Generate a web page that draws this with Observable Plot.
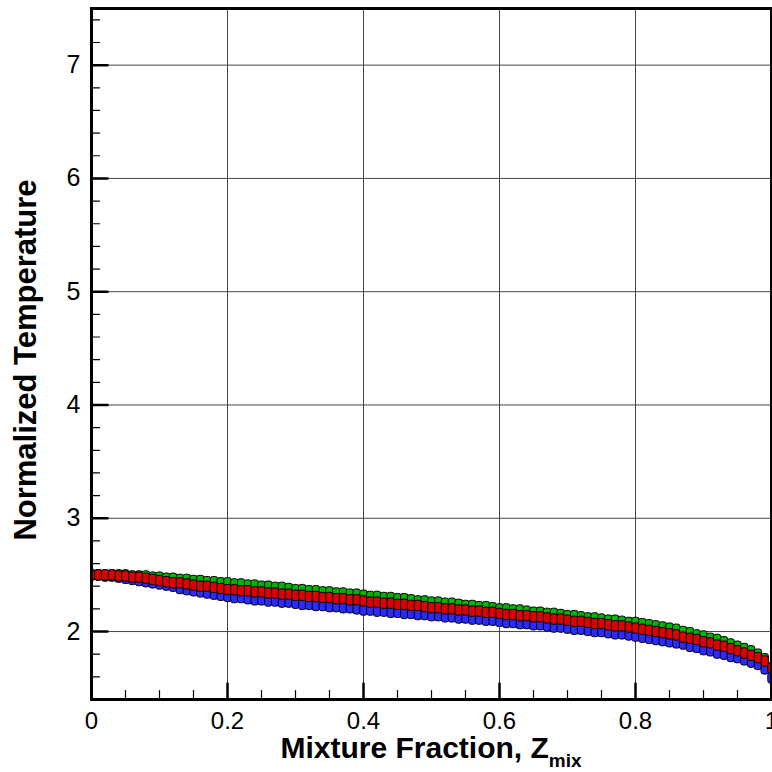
<!DOCTYPE html>
<html>
<head>
<meta charset="utf-8">
<script src="https://cdn.jsdelivr.net/npm/d3@7"></script>
<script src="https://cdn.jsdelivr.net/npm/@observablehq/plot@0.6"></script>
<style>
  html, body { margin: 0; padding: 0; background: #fff; }
  #chart svg { display: block; }
</style>
</head>
<body>
<div id="chart"></div>
<script>
// ---- data ----
const zmix = [
  0.00, 0.01, 0.02, 0.03, 0.04, 0.05, 0.06, 0.07, 0.08, 0.09, 0.10,
  0.11, 0.12, 0.13, 0.14, 0.15, 0.16, 0.17, 0.18, 0.19, 0.20,
  0.21, 0.22, 0.23, 0.24, 0.25, 0.26, 0.27, 0.28, 0.29, 0.30,
  0.31, 0.32, 0.33, 0.34, 0.35, 0.36, 0.37, 0.38, 0.39, 0.40,
  0.41, 0.42, 0.43, 0.44, 0.45, 0.46, 0.47, 0.48, 0.49, 0.50,
  0.51, 0.52, 0.53, 0.54, 0.55, 0.56, 0.57, 0.58, 0.59, 0.60,
  0.61, 0.62, 0.63, 0.64, 0.65, 0.66, 0.67, 0.68, 0.69, 0.70,
  0.71, 0.72, 0.73, 0.74, 0.75, 0.76, 0.77, 0.78, 0.79, 0.80,
  0.81, 0.82, 0.83, 0.84, 0.85, 0.86, 0.87, 0.88, 0.89, 0.90,
  0.91, 0.92, 0.93, 0.94, 0.95, 0.96, 0.97, 0.98, 0.99, 1.00
];
const tempBlue = [
  2.50, 2.50, 2.49, 2.49, 2.48, 2.47, 2.46, 2.45, 2.44, 2.43, 2.42,
  2.41, 2.40, 2.38, 2.37, 2.36, 2.35, 2.34, 2.33, 2.32, 2.31,
  2.30, 2.30, 2.29, 2.28, 2.28, 2.27, 2.27, 2.26, 2.26, 2.25,
  2.24, 2.24, 2.23, 2.23, 2.22, 2.22, 2.21, 2.21, 2.20, 2.19,
  2.19, 2.18, 2.18, 2.17, 2.17, 2.16, 2.16, 2.15, 2.15, 2.14,
  2.14, 2.13, 2.13, 2.12, 2.12, 2.11, 2.11, 2.10, 2.10, 2.09,
  2.08, 2.08, 2.07, 2.07, 2.06, 2.06, 2.05, 2.04, 2.04, 2.03,
  2.02, 2.02, 2.01, 2.00, 2.00, 1.99, 1.98, 1.98, 1.97, 1.96,
  1.95, 1.94, 1.93, 1.92, 1.91, 1.90, 1.89, 1.87, 1.86, 1.84,
  1.83, 1.81, 1.80, 1.78, 1.77, 1.75, 1.73, 1.71, 1.67, 1.59
];
const tempGreen = [
  2.50, 2.50, 2.50, 2.50, 2.50, 2.50, 2.49, 2.49, 2.49, 2.48, 2.48,
  2.47, 2.47, 2.46, 2.46, 2.45, 2.45, 2.44, 2.44, 2.43, 2.43,
  2.42, 2.42, 2.41, 2.41, 2.40, 2.40, 2.39, 2.39, 2.38, 2.37,
  2.37, 2.36, 2.36, 2.35, 2.35, 2.34, 2.34, 2.33, 2.33, 2.32,
  2.31, 2.31, 2.30, 2.30, 2.29, 2.29, 2.28, 2.27, 2.27, 2.26,
  2.26, 2.25, 2.25, 2.24, 2.23, 2.23, 2.22, 2.22, 2.21, 2.20,
  2.20, 2.19, 2.19, 2.18, 2.17, 2.17, 2.16, 2.16, 2.15, 2.14,
  2.14, 2.13, 2.12, 2.12, 2.11, 2.10, 2.10, 2.09, 2.08, 2.08,
  2.07, 2.06, 2.05, 2.04, 2.03, 2.02, 2.00, 1.99, 1.97, 1.96,
  1.94, 1.93, 1.91, 1.89, 1.87, 1.85, 1.83, 1.80, 1.76, 1.68
];
const tempRed = [
  2.50, 2.50, 2.50, 2.50, 2.49, 2.49, 2.48, 2.48, 2.47, 2.46, 2.45,
  2.44, 2.43, 2.43, 2.42, 2.41, 2.40, 2.40, 2.39, 2.38, 2.37,
  2.37, 2.36, 2.36, 2.35, 2.35, 2.34, 2.34, 2.33, 2.33, 2.32,
  2.32, 2.31, 2.31, 2.30, 2.30, 2.29, 2.29, 2.28, 2.28, 2.27,
  2.26, 2.26, 2.25, 2.25, 2.24, 2.24, 2.23, 2.23, 2.22, 2.21,
  2.21, 2.20, 2.20, 2.19, 2.19, 2.18, 2.18, 2.17, 2.17, 2.16,
  2.15, 2.15, 2.14, 2.14, 2.13, 2.13, 2.12, 2.11, 2.11, 2.10,
  2.09, 2.09, 2.08, 2.07, 2.07, 2.06, 2.05, 2.05, 2.04, 2.03,
  2.02, 2.01, 2.00, 1.99, 1.98, 1.97, 1.95, 1.94, 1.93, 1.91,
  1.90, 1.88, 1.87, 1.85, 1.83, 1.81, 1.79, 1.77, 1.74, 1.68
];
const xMajorTicks = [0, 0.2, 0.4, 0.6, 0.8, 1];
const xTickLabels = ["0", "0.2", "0.4", "0.6", "0.8", "1"];
const xMinorTicks = [0.05, 0.1, 0.15, 0.25, 0.3, 0.35, 0.45, 0.5, 0.55, 0.65, 0.7, 0.75, 0.85, 0.9, 0.95];
const yMajorTicks = [2, 3, 4, 5, 6, 7];
const yTickLabels = ["2", "3", "4", "5", "6", "7"];
const yMinorTicks = [1.6, 1.8, 2.2, 2.4, 2.6, 2.8, 3.2, 3.4, 3.6, 3.8, 4.2, 4.4, 4.6, 4.8, 5.2, 5.4, 5.6, 5.8, 6.2, 6.4, 6.6, 6.8, 7.2, 7.4];
const xTitle = "Mixture Fraction, Z";
const xTitleSub = "mix";
const yTitle = "Normalized Temperature";

// ---- build tables ----
const rows = (vals) => zmix.map((z, i) => ({z, t: vals[i]}));
const xLabelRows = xMajorTicks.map((v, i) => ({v, label: xTickLabels[i]}));
const yLabelRows = yMajorTicks.map((v, i) => ({v, label: yTickLabels[i]}));

// marker: small rounded, slightly tall rectangle
const capsule = {
  draw(ctx) {
    const w = 3.7, h = 5.2, r = 2.4;
    ctx.moveTo(-w + r, -h);
    ctx.lineTo(w - r, -h);
    ctx.arcTo(w, -h, w, -h + r, r);
    ctx.lineTo(w, h - r);
    ctx.arcTo(w, h, w - r, h, r);
    ctx.lineTo(-w + r, h);
    ctx.arcTo(-w, h, -w, h - r, r);
    ctx.lineTo(-w, -h + r);
    ctx.arcTo(-w, -h, -w + r, -h, r);
    ctx.closePath();
  }
};
const tickShape = { draw(ctx, l) { ctx.moveTo(0, 0); ctx.lineTo(0, -l); } };

const FONT = "'Liberation Sans', Arial, Helvetica, sans-serif";

const plot = Plot.plot({
  width: 772,
  height: 772,
  marginLeft: 91,
  marginRight: 1,
  marginTop: 8,
  marginBottom: 73,
  style: { fontFamily: FONT, background: "#fff", color: "#000" },
  x: { domain: [0, 1], axis: null },
  y: { domain: [1.4, 7.5], axis: null },
  marks: [
    Plot.gridX(xMajorTicks, { stroke: "#444", strokeOpacity: 1, strokeWidth: 1 }),
    Plot.gridY(yMajorTicks, { stroke: "#444", strokeOpacity: 1, strokeWidth: 1 }),
    Plot.dot(rows(tempBlue), { x: "z", y: "t", symbol: capsule, fill: "#2b2bff", stroke: "#000", strokeWidth: 1, clip: true }),
    Plot.dot(rows(tempGreen), { x: "z", y: "t", symbol: capsule, fill: "#00b400", stroke: "#000", strokeWidth: 1, clip: true }),
    Plot.dot(rows(tempRed), { x: "z", y: "t", symbol: capsule, fill: "#dc0000", stroke: "#000", strokeWidth: 1, clip: true }),
    // inward ticks
    Plot.vector(yMajorTicks, { y: d => d, frameAnchor: "left", length: 16, rotate: 90, anchor: "start", shape: tickShape, stroke: "#000", strokeWidth: 2.5 }),
    Plot.vector(yMinorTicks, { y: d => d, frameAnchor: "left", length: 8, rotate: 90, anchor: "start", shape: tickShape, stroke: "#000", strokeWidth: 1.2 }),
    Plot.vector(xMajorTicks, { x: d => d, frameAnchor: "bottom", length: 16, rotate: 0, anchor: "start", shape: tickShape, stroke: "#000", strokeWidth: 2.5 }),
    Plot.vector(xMinorTicks, { x: d => d, frameAnchor: "bottom", length: 9, rotate: 0, anchor: "start", shape: tickShape, stroke: "#000", strokeWidth: 1.2 }),
    Plot.frame({ stroke: "#000", strokeWidth: 3 }),
    // tick labels
    Plot.text(yLabelRows, { y: "v", text: "label", frameAnchor: "left", textAnchor: "end", dx: -11, fontSize: 25, fill: "#000" }),
    Plot.text(xLabelRows, { x: "v", text: "label", frameAnchor: "bottom", lineAnchor: "top", dy: 12, fontSize: 24, fill: "#000" })
  ]
});

const svg = d3.select(plot);
svg.append("text")
  .attr("transform", "translate(36,360) rotate(-90)")
  .attr("text-anchor", "middle")
  .attr("font-family", FONT)
  .attr("font-size", 31)
  .attr("font-weight", "bold")
  .attr("fill", "#000")
  .text(yTitle);
const xt = svg.append("text")
  .attr("x", 431)
  .attr("y", 758)
  .attr("text-anchor", "middle")
  .attr("font-family", FONT)
  .attr("font-size", 30)
  .attr("font-weight", "bold")
  .attr("fill", "#000");
xt.append("tspan").text(xTitle);
xt.append("tspan").attr("font-size", 19).attr("dy", 9).text(xTitleSub);

document.getElementById("chart").appendChild(plot);
</script>
</body>
</html>
